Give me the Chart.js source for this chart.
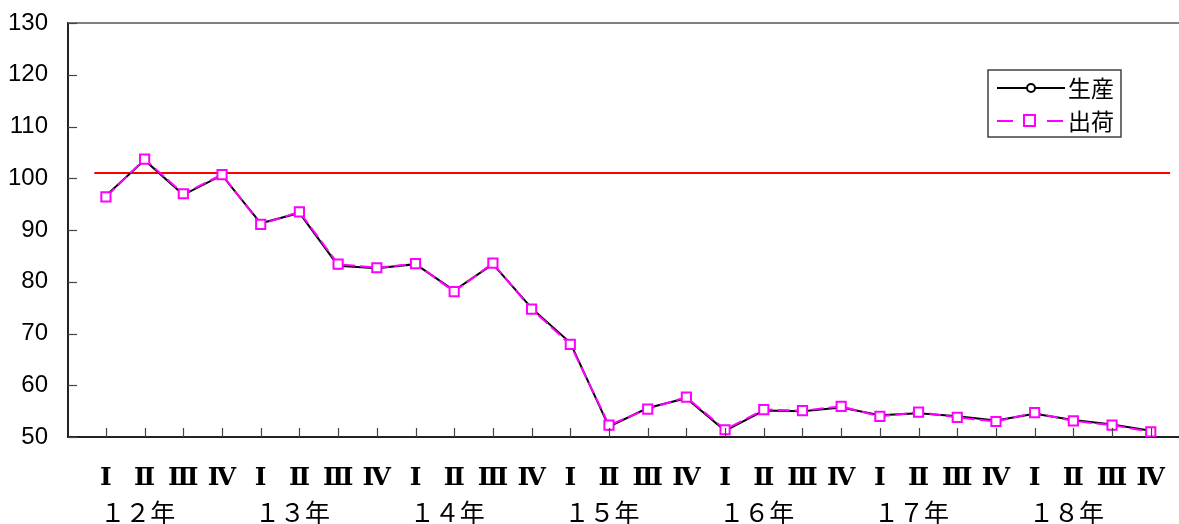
<!DOCTYPE html>
<html lang="ja">
<head>
<meta charset="utf-8">
<script src="https://cdn.jsdelivr.net/npm/chart.js@4.4.1/dist/chart.umd.min.js"></script>
<style>
  html, body { margin: 0; padding: 0; background: #fff; }
  #wrap { width: 1179px; height: 524px; position: relative; }
</style>
</head>
<body>
<div id="wrap"><canvas id="chart"></canvas></div>
<script>
// 年・四半期
let years = ['１２年', '１３年', '１４年', '１５年', '１６年', '１７年', '１８年'];
let quarters = ['Ⅰ', 'Ⅱ', 'Ⅲ', 'Ⅳ'];

// 指数（読み取り値）
let seisan = [96.6, 103.5, 96.8, 100.6, 91.3, 93.3, 83.1, 82.6, 83.4, 78.3, 83.4, 74.9, 68.2, 52.0,
              55.6, 57.5, 51.2, 55.1, 55.0, 55.7, 54.2, 54.6, 54.0, 53.2, 54.5, 53.3, 52.4, 51.2];
let shukka = [96.4, 103.7, 97.0, 100.7, 91.1, 93.5, 83.4, 82.7, 83.5, 78.1, 83.6, 74.7, 67.9, 52.3,
              55.4, 57.7, 51.4, 55.3, 55.1, 55.9, 54.0, 54.8, 53.8, 53.0, 54.7, 53.1, 52.3, 51.0];

// 基準線
let baseValue = 101;
let baseRange = [-0.3, 27.5];

let yMin = 50, yMax = 130, yStep = 10;

let labels = [];
years.forEach(function () {
    quarters.forEach(function (q) { labels.push(q); });
});

function toPoints(arr) {
    return arr.map(function (v, i) { return { x: i, y: v }; });
}

// 内向きの目盛り、上枠線、年ラベル、凡例
let extras = {
    id: 'extras',
    afterDraw: function (chart) {
        let ctx = chart.ctx;
        let area = chart.chartArea;
        let x = chart.scales.x;
        let y = chart.scales.y;
        ctx.save();

        // top border
        ctx.strokeStyle = '#808080';
        ctx.lineWidth = 2;
        ctx.beginPath();
        ctx.moveTo(area.left, area.top);
        ctx.lineTo(area.right, area.top);
        ctx.stroke();

        // ticks
        ctx.strokeStyle = '#444';
        ctx.lineWidth = 1.2;
        for (let v = yMin; v <= yMax; v += yStep) {
            let py = Math.round(y.getPixelForValue(v)) + 0.5;
            ctx.beginPath();
            ctx.moveTo(area.left, py);
            ctx.lineTo(area.left + 9, py);
            ctx.stroke();
        }
        for (let i = 0; i < labels.length; i++) {
            let px = Math.round(x.getPixelForValue(i)) + 0.5;
            ctx.beginPath();
            ctx.moveTo(px, area.bottom);
            ctx.lineTo(px, area.bottom - 9);
            ctx.stroke();
        }

        // year labels
        ctx.fillStyle = '#000';
        ctx.font = '25px "Noto Sans CJK JP"';
        ctx.textAlign = 'center';
        ctx.textBaseline = 'middle';
        years.forEach(function (yr, k) {
            ctx.fillText(yr, x.getPixelForValue(k * 4 + 0.82), 512);
        });

        // legend
        let lx = 988, ly = 70, lw = 133, lh = 67;
        ctx.fillStyle = '#fff';
        ctx.fillRect(lx, ly, lw, lh);
        ctx.strokeStyle = '#404040';
        ctx.lineWidth = 1.5;
        ctx.strokeRect(lx, ly, lw, lh);

        // 生産
        ctx.strokeStyle = '#000';
        ctx.lineWidth = 2;
        ctx.beginPath();
        ctx.moveTo(997, 88);
        ctx.lineTo(1065, 88);
        ctx.stroke();
        ctx.fillStyle = '#fff';
        ctx.beginPath();
        ctx.arc(1031, 88, 4, 0, Math.PI * 2);
        ctx.fill();
        ctx.stroke();

        // 出荷
        ctx.strokeStyle = '#ff00ff';
        ctx.beginPath();
        ctx.moveTo(997, 121); ctx.lineTo(1013, 121);
        ctx.moveTo(1047, 121); ctx.lineTo(1063, 121);
        ctx.stroke();
        ctx.fillRect(1024, 115, 11, 11);
        ctx.strokeRect(1024, 115, 11, 11);

        ctx.fillStyle = '#000';
        ctx.font = '23px "Noto Sans CJK JP"';
        ctx.textAlign = 'left';
        ctx.fillText('生産', 1068, 88);
        ctx.fillText('出荷', 1068, 121);

        ctx.restore();
    }
};

new Chart(document.getElementById('chart'), {
    type: 'line',
    data: {
        datasets: [
            {
                label: '出荷',
                data: toPoints(shukka),
                borderColor: '#ff00ff',
                borderWidth: 2,
                borderDash: [12, 5],
                pointStyle: 'rect',
                pointRadius: 6.5,
                pointBorderWidth: 2,
                pointBorderColor: '#ff00ff',
                pointBackgroundColor: '#fff',
                tension: 0,
                order: 0
            },
            {
                label: '生産',
                data: toPoints(seisan),
                borderColor: '#000',
                borderWidth: 2,
                pointStyle: 'circle',
                pointRadius: 3,
                pointBorderWidth: 1.5,
                pointBorderColor: '#000',
                pointBackgroundColor: '#fff',
                tension: 0,
                order: 1
            },
            {
                label: '基準',
                data: baseRange.map(function (v) { return { x: v, y: baseValue }; }),
                borderColor: '#ff0000',
                borderWidth: 2,
                pointRadius: 0,
                order: 2
            }
        ]
    },
    options: {
        responsive: true,
        maintainAspectRatio: false,
        animation: false,
        layout: { autoPadding: false, padding: { top: 23, right: 0, left: 0, bottom: 0 } },
        plugins: {
            legend: { display: false },
            tooltip: { enabled: false }
        },
        scales: {
            x: {
                type: 'linear',
                min: -0.98,
                max: 27.73,
                afterBuildTicks: function (scale) {
                    scale.ticks = labels.map(function (l, i) { return { value: i }; });
                },
                afterFit: function (scale) {
                    scale.height = 87;
                    scale.paddingLeft = 0;
                    scale.paddingRight = 0;
                },
                grid: { display: false, drawTicks: false },
                border: { display: true, color: '#222', width: 2 },
                ticks: {
                    autoSkip: false,
                    maxRotation: 0,
                    padding: 26,
                    color: '#000',
                    font: { family: '"DejaVu Serif"', size: 25, weight: 'bold' },
                    callback: function (v) { return labels[v]; }
                }
            },
            y: {
                min: yMin,
                max: yMax,
                afterFit: function (scale) {
                    scale.width = 68;
                    scale.paddingTop = 0;
                    scale.paddingBottom = 0;
                },
                grid: { display: false, drawTicks: false },
                border: { display: true, color: '#222', width: 2 },
                ticks: {
                    stepSize: yStep,
                    padding: 20,
                    color: '#000',
                    font: { family: '"Liberation Sans", Arial', size: 24 }
                }
            }
        }
    },
    plugins: [extras]
});
</script>
</body>
</html>
